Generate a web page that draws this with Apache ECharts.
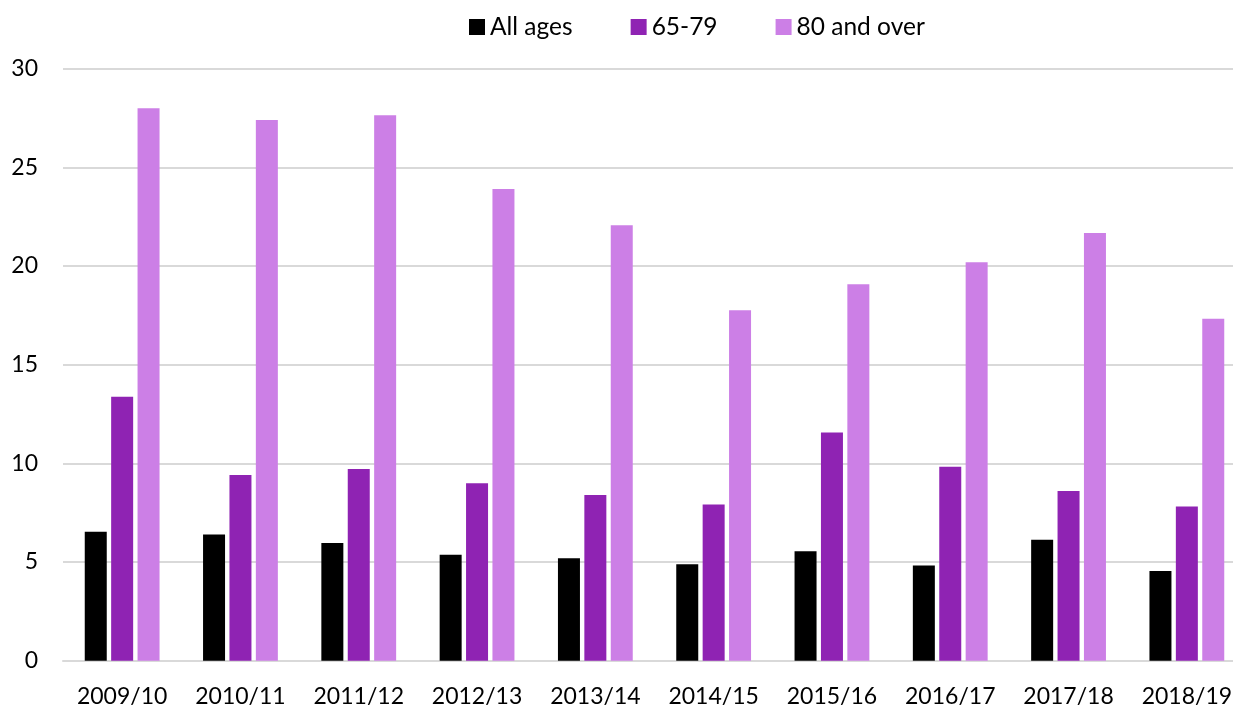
<!DOCTYPE html>
<html>
<head>
<meta charset="utf-8">
<script src="https://cdn.jsdelivr.net/npm/echarts@6/dist/echarts.min.js"></script>
<style>
  html, body { margin: 0; padding: 0; background: #fff; }
  #chart { width: 1233px; height: 706px; }
</style>
</head>
<body>
<div id="chart"></div>
<script>
const years = ['2009/10', '2010/11', '2011/12', '2012/13', '2013/14', '2014/15', '2015/16', '2016/17', '2017/18', '2018/19']
const allAges = [6.54, 6.40, 5.96, 5.37, 5.19, 4.89, 5.55, 4.82, 6.13, 4.55]
const age65to79 = [13.38, 9.41, 9.71, 8.99, 8.40, 7.91, 11.56, 9.83, 8.60, 7.81]
const age80plus = [28.0, 27.4, 27.64, 23.9, 22.07, 17.76, 19.08, 20.19, 21.68, 17.33]

const font = 'Lato, "Open Sans", sans-serif'
const chart = echarts.init(document.getElementById('chart'))

chart.setOption({
  animation: false,
  legend: {
    left: 464,
    top: 8,
    itemWidth: 16,
    itemHeight: 16,
    itemGap: 58,
    icon: 'rect',
    textStyle: { fontFamily: font, fontSize: 24.5, color: '#000', lineHeight: 28 },
    data: ['All ages', '65-79', '80 and over'],
  },
  grid: { left: 63, top: 68.7, width: 1183, height: 592, outerBoundsMode: 'none', containLabel: false },
  xAxis: {
    type: 'category',
    data: years,
    axisTick: { show: false },
    axisLine: { lineStyle: { color: '#d9d9d9', width: 2 } },
    axisLabel: { fontFamily: font, fontSize: 23, color: '#000', margin: 24, interval: 0 },
  },
  yAxis: {
    type: 'value',
    min: 0,
    max: 30,
    interval: 5,
    axisLine: { show: false },
    axisTick: { show: false },
    splitLine: { lineStyle: { color: '#d9d9d9', width: 2 } },
    axisLabel: { fontFamily: font, fontSize: 23, color: '#000', margin: 25 },
  },
  series: [
    { name: 'All ages', type: 'bar', data: allAges, barWidth: 22, barGap: '20%', itemStyle: { color: '#000000' } },
    { name: '65-79', type: 'bar', data: age65to79, barWidth: 22, barGap: '20%', itemStyle: { color: '#8F23B3' } },
    { name: '80 and over', type: 'bar', data: age80plus, barWidth: 22, barGap: '20%', itemStyle: { color: '#CC7FE6' } },
  ],
})
</script>
</body>
</html>
